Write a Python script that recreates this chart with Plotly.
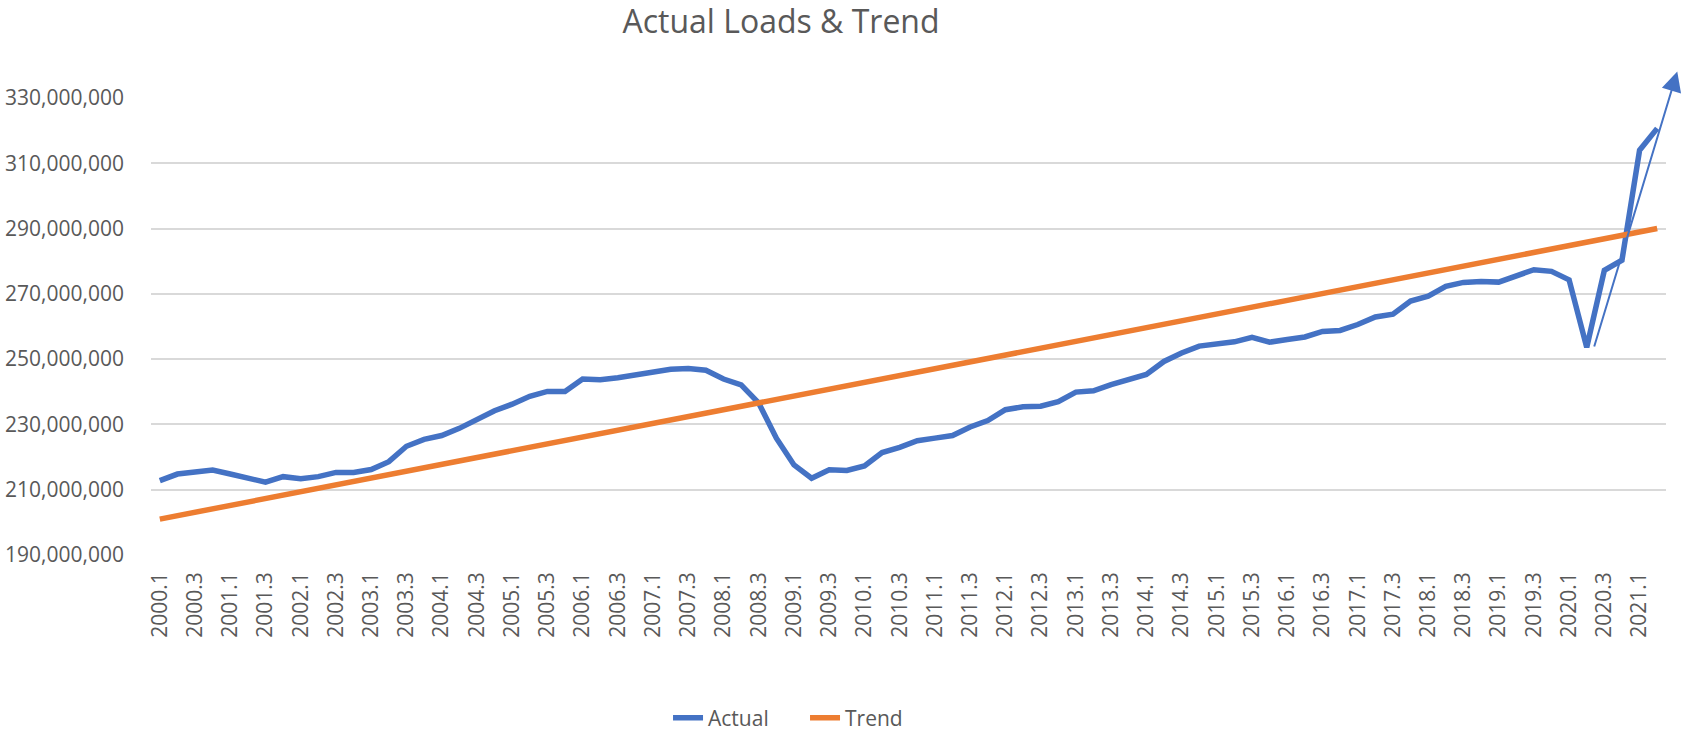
import plotly.graph_objects as go

# ---------------- data ----------------
years = list(range(2000, 2022))
quarters = [f"{y}.{q}" for y in years for q in (1, 2, 3, 4)][:86]   # 2000.1 .. 2021.2

actual = [
    212.8, 214.8, 215.4, 216.0,   # 2000
    214.8, 213.4, 212.3, 214.0,   # 2001
    213.4, 214.0, 215.3, 215.3,   # 2002
    216.2, 218.6, 223.3, 225.4,   # 2003
    226.6, 228.8, 231.4, 234.2,   # 2004
    236.2, 238.6, 240.1, 240.1,   # 2005
    243.9, 243.7, 244.3, 245.2,   # 2006
    246.2, 246.9, 247.1, 246.6,   # 2007
    243.9, 242.1, 236.5, 225.8,   # 2008
    217.6, 213.5, 216.1, 215.9,   # 2009
    217.3, 221.4, 223.0, 225.0,   # 2010
    225.8, 226.6, 229.2, 231.2,   # 2011
    234.5, 235.4, 235.6, 237.0,   # 2012
    239.9, 240.3, 242.2, 243.7,   # 2013
    245.3, 249.3, 251.9, 254.0,   # 2014
    254.6, 255.3, 256.7, 255.2,   # 2015
    256.0, 256.8, 258.5, 258.8,   # 2016
    260.6, 262.9, 263.8, 267.8,   # 2017
    269.3, 272.3, 273.5, 273.8,   # 2018
    273.6, 275.7, 277.4, 276.9,   # 2019
    274.3, 253.6, 277.2, 280.3,   # 2020
    314.0, 320.7,                 # 2021
]
actual = [v * 1e6 for v in actual]

# Trend line (straight), end points
trend_x = ["2000.1", "2021.2"]
trend_y = [201.0e6, 290.0e6]

# hand-drawn arrow (category index, value)
arrow_tail = (81.4, 253.4e6)
arrow_head = (86.14, 338.1e6)

tick_labels = quarters[::2]
y_ticks = list(range(190_000_000, 330_000_001, 20_000_000))

# ---------------- figure ----------------
BLUE = "#4472C4"
ORANGE = "#ED7D31"
TXT = "#595959"
FONT = "Open Sans"

fig = go.Figure()
fig.add_trace(go.Scatter(x=quarters, y=actual, mode="lines", name="Actual",
                         line=dict(color=BLUE, width=5.5), hoverinfo="x+y"))
fig.add_trace(go.Scatter(x=trend_x, y=trend_y, mode="lines", name="Trend",
                         line=dict(color=ORANGE, width=5.5), hoverinfo="x+y"))

fig.add_annotation(x=arrow_head[0], y=arrow_head[1], ax=arrow_tail[0], ay=arrow_tail[1],
                   xref="x", yref="y", axref="x", ayref="y", text="",
                   showarrow=True, arrowhead=2, arrowsize=2, arrowwidth=2,
                   arrowcolor=BLUE)

fig.update_layout(
    width=1682, height=733,
    margin=dict(l=151, r=16, t=98, b=178, autoexpand=False),
    paper_bgcolor="white", plot_bgcolor="white",
    font=dict(family=FONT, color=TXT, size=21),
    title=dict(text="Actual Loads &amp; Trend", x=781 / 1682, xanchor="center",
               xref="container", y=1 - 22 / 733, yanchor="middle", yref="container",
               font=dict(family=FONT, size=32, color=TXT)),
    legend=dict(orientation="h", x=0.4317, xanchor="center",
                yref="container", y=1 - 718 / 733, yanchor="middle",
                entrywidth=92, entrywidthmode="pixels",
                font=dict(family=FONT, size=21, color=TXT), bgcolor="rgba(0,0,0,0)"),
    showlegend=True,
)
fig.update_xaxes(type="category", categoryorder="array", categoryarray=quarters,
                 range=[-0.5, 85.5], tickangle=-90, tickmode="array",
                 tickvals=tick_labels, ticktext=tick_labels,
                 showgrid=False, zeroline=False, showline=False, ticks="",
                 ticklabelstandoff=12, automargin=False,
                 tickfont=dict(family=FONT, size=21, color=TXT))
fig.update_yaxes(range=[190e6, 330e6], tickmode="array", tickvals=y_ticks,
                 tickformat=",d", showgrid=True, gridcolor="#D9D9D9", gridwidth=1.5,
                 zeroline=False, showline=False, ticks="", ticklabelstandoff=26,
                 automargin=False,
                 tickfont=dict(family=FONT, size=21, color=TXT))

fig.write_html("out.html", config={"displayModeBar": False},
               post_script="document.body.style.margin='0';")
